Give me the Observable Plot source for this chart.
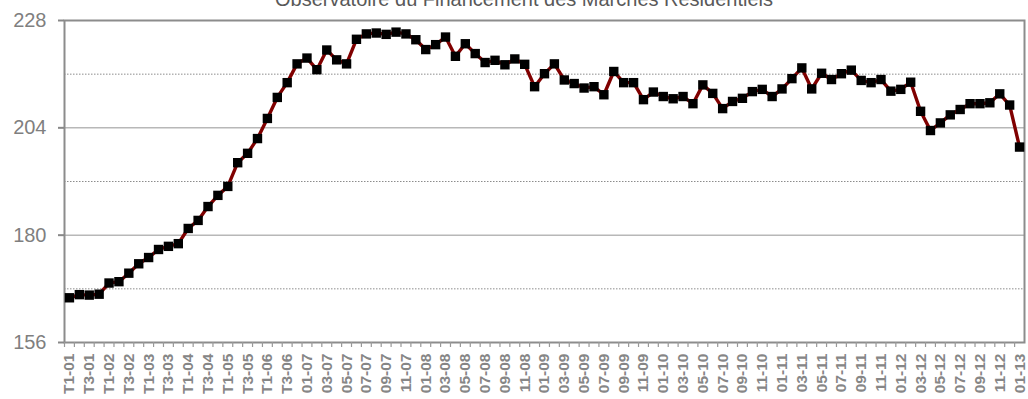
<!DOCTYPE html>
<html>
<head>
<meta charset="utf-8">
<script src="https://cdn.jsdelivr.net/npm/d3@7"></script>
<script src="https://cdn.jsdelivr.net/npm/@observablehq/plot@0.6"></script>
<style>
  html, body { margin: 0; padding: 0; background: #fff; overflow: hidden; }
  #wrap { position: relative; width: 1028px; height: 399px; }
  #title { position: absolute; left: 0; width: 1048px; top: -11px; text-align: center;
           font-family: "Liberation Sans", Arial, sans-serif; font-size: 20px; color: #595959;
           line-height: 20px; white-space: nowrap; }
  #chart { position: absolute; left: 0; top: 0; }
</style>
</head>
<body>
<div id="wrap">
  <div id="chart"></div>
  <div id="title">Observatoire du Financement des Marchés Résidentiels</div>
</div>
<script>
const categories = [
  "T1-01","T2-01","T3-01","T4-01","T1-02","T2-02","T3-02","T4-02",
  "T1-03","T2-03","T3-03","T4-03","T1-04","T2-04","T3-04","T4-04",
  "T1-05","T2-05","T3-05","T4-05","T1-06","T2-06","T3-06","T4-06",
  "01-07","02-07","03-07","04-07","05-07","06-07","07-07","08-07","09-07","10-07","11-07","12-07",
  "01-08","02-08","03-08","04-08","05-08","06-08","07-08","08-08","09-08","10-08","11-08","12-08",
  "01-09","02-09","03-09","04-09","05-09","06-09","07-09","08-09","09-09","10-09","11-09","12-09",
  "01-10","02-10","03-10","04-10","05-10","06-10","07-10","08-10","09-10","10-10","11-10","12-10",
  "01-11","02-11","03-11","04-11","05-11","06-11","07-11","08-11","09-11","10-11","11-11","12-11",
  "01-12","02-12","03-12","04-12","05-12","06-12","07-12","08-12","09-12","10-12","11-12","12-12",
  "01-13"
];
const values = [
  166.0,166.7,166.6,166.8,169.3,169.6,171.5,173.6,
  175.0,176.8,177.5,178.1,181.5,183.3,186.4,188.9,
  190.9,196.2,198.3,201.6,206.1,210.8,214.1,218.3,
  219.6,217.0,221.4,219.2,218.3,223.8,225.0,225.2,224.9,225.4,225.0,223.7,
  221.5,222.6,224.3,220.0,222.8,220.6,218.6,219.1,218.1,219.4,218.2,213.2,
  216.1,218.3,214.7,213.9,212.9,213.2,211.4,216.6,214.1,214.1,210.3,212.0,
  211.0,210.5,211.0,209.4,213.6,211.7,208.3,209.9,210.6,212.1,212.6,211.0,
  212.7,215.0,217.4,212.7,216.2,214.8,216.1,216.9,214.6,214.1,214.8,212.2,
  212.6,214.2,207.7,203.4,205.1,206.9,208.1,209.4,209.4,209.6,211.6,209.1,
  199.7
];
const yMajor = [156, 180, 204, 228];
const yMinor = [168, 192, 216];
const xLabels = categories.filter((d, i) => i % 2 === 0);

const data = categories.map((c, i) => ({cat: c, v: values[i]}));

const W = 1028, H = 399, mL = 64, mR = 4, mT = 20, mB = 57;
const halfStep = (W - mL - mR) / categories.length / 2;

const chart = Plot.plot({
  width: W, height: H,
  marginLeft: mL, marginRight: mR, marginTop: mT, marginBottom: mB,
  style: {fontFamily: "'Liberation Sans', Arial, sans-serif", background: "#fff", color: "#7f7f7f"},
  x: {type: "point", domain: categories, padding: 0.5, axis: null},
  y: {domain: [156, 228], axis: null},
  marks: [
    Plot.ruleY(yMinor, {stroke: "#8c8c8c", strokeWidth: 1, strokeDasharray: "1.5,1.5"}),
    Plot.ruleY([180, 204], {stroke: "#b8b8b8", strokeWidth: 1.5}),
    Plot.frame({stroke: "#8c8c8c", strokeWidth: 2}),
    Plot.axisY({ticks: yMajor, tickSize: 6, tickPadding: 12, fontSize: 20, stroke: "#888", strokeWidth: 2, color: "#7f7f7f", tickFormat: d => d, label: null}),
    Plot.axisX({ticks: categories, tickSize: 5, tickFormat: () => "", dx: -halfStep, stroke: "#999", strokeWidth: 1.2, label: null}),
    Plot.axisX({ticks: xLabels, tickSize: 0, tickPadding: 11, tickRotate: -90, fontSize: 15.5, fontWeight: "bold", fill: "#868686", label: null}),
    Plot.line(data, {x: "cat", y: "v", stroke: "#800000", strokeWidth: 3.4}),
    Plot.dot(data, {x: "cat", y: "v", symbol: "square", r: 5.3, fill: "#000", stroke: "none"})
  ]
});
document.getElementById("chart").appendChild(chart);
</script>
</body>
</html>
